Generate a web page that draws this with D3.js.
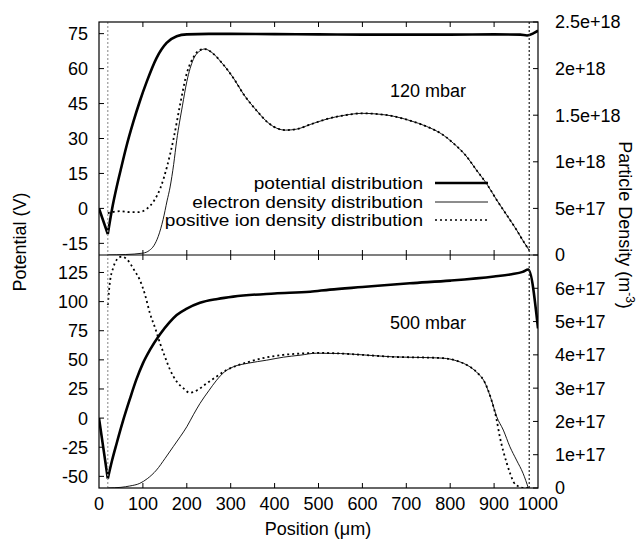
<!DOCTYPE html>
<html>
  <head>
    <meta charset="utf-8">
    <style>
    body {
      margin: 0px;
      background: white;
    }
    text {
      font-family: "Liberation Sans", Arial, sans-serif;
      font-size: 18px;
      fill: #000;
    }
    </style>
  </head>
  <body>
    <div id="chart"></div>

    <script src="https://d3js.org/d3.v7.min.js"></script>
    <script>

    'use strict';

    // x axis
    var positionTicks = [0, 100, 200, 300, 400, 500, 600, 700, 800, 900, 1000];
    var electrodeMarks = [20, 980];

    // 120 mbar panel
    var topPotTicks = [-15, 0, 15, 30, 45, 60, 75];
    var topDensTicks = [0, 5e17, 1e18, 1.5e18, 2e18, 2.5e18];
    var topDensLabels = ['0', '5e+17', '1e+18', '1.5e+18', '2e+18', '2.5e+18'];

    var topPotX = [0, 20, 30, 40, 50, 63, 78, 93, 109, 131, 154, 177, 200, 250, 300, 400, 500, 600, 700, 800, 900, 960, 975, 990, 1000];
    var topPotV = [0, -11, 0, 9, 17, 27, 37, 46, 54.5, 64.5, 71, 73.9, 74.7, 74.9, 74.9, 74.8, 74.7, 74.6, 74.6, 74.6, 74.7, 74.6, 74.2, 75.2, 76.3];

    var topIonX = [20, 30, 50, 70, 90, 110, 125, 140, 155, 170, 185, 200, 215, 230, 241, 255, 280, 306, 330, 359, 385, 405, 425, 450, 481, 520, 560, 600, 640, 670, 710, 746, 780, 807, 835, 860, 885, 906, 930, 951, 965, 980];
    var topIonN = [0.45e18, 0.46e18, 0.47e18, 0.46e18, 0.46e18, 0.5e18, 0.58e18, 0.72e18, 0.95e18, 1.25e18, 1.62e18, 1.95e18, 2.12e18, 2.2e18, 2.21e18, 2.18e18, 2.06e18, 1.9e18, 1.72e18, 1.55e18, 1.42e18, 1.36e18, 1.34e18, 1.35e18, 1.4e18, 1.46e18, 1.5e18, 1.52e18, 1.51e18, 1.49e18, 1.44e18, 1.38e18, 1.3e18, 1.2e18, 1.07e18, 0.91e18, 0.75e18, 0.59e18, 0.42e18, 0.27e18, 0.16e18, 0.05e18];

    var topEleX = [20, 60, 100, 115, 125, 135, 146, 155, 162, 170, 177, 190, 200, 215, 230, 241, 255, 280, 306, 330, 359, 385, 405, 425, 450, 481, 520, 560, 600, 640, 670, 710, 746, 780, 807, 835, 860, 885, 906, 930, 951, 965, 980];
    var topEleN = [0, 0.005e18, 0.02e18, 0.05e18, 0.1e18, 0.2e18, 0.38e18, 0.58e18, 0.73e18, 0.97e18, 1.23e18, 1.6e18, 1.86e18, 2.1e18, 2.19e18, 2.21e18, 2.18e18, 2.06e18, 1.9e18, 1.72e18, 1.55e18, 1.42e18, 1.36e18, 1.34e18, 1.35e18, 1.4e18, 1.46e18, 1.5e18, 1.52e18, 1.51e18, 1.49e18, 1.44e18, 1.38e18, 1.3e18, 1.2e18, 1.07e18, 0.91e18, 0.75e18, 0.59e18, 0.42e18, 0.27e18, 0.16e18, 0.05e18];

    // 500 mbar panel
    var botPotTicks = [-50, -25, 0, 25, 50, 75, 100, 125];
    var botDensTicks = [0, 1e17, 2e17, 3e17, 4e17, 5e17, 6e17];
    var botDensLabels = ['0', '1e+17', '2e+17', '3e+17', '4e+17', '5e+17', '6e+17'];

    var botPotX = [0, 20, 30, 40, 55, 70, 85, 100, 116, 139, 160, 177, 200, 230, 270, 306, 400, 481, 526, 600, 708, 800, 900, 940, 965, 978, 1000];
    var botPotV = [0, -52, -36, -22, -2, 16, 33, 47, 58.5, 72, 82, 88.5, 94, 99, 102.3, 104.3, 107, 108.5, 110.3, 112.5, 115.7, 118, 121.5, 123.5, 125.5, 127.5, 77];

    var botIonX = [20, 25, 32, 40, 52, 65, 80, 93, 105, 116, 128, 139, 150, 162, 177, 192, 207, 225, 245, 268, 291, 315, 344, 380, 420, 460, 496, 550, 600, 670, 740, 784, 815, 845, 865, 876, 894, 905, 913, 921, 929, 937, 944, 955, 970, 980];
    var botIonN = [5.5e17, 6.2e17, 6.6e17, 6.85e17, 6.95e17, 6.85e17, 6.55e17, 6.25e17, 5.8e17, 5.25e17, 4.8e17, 4.35e17, 3.95e17, 3.55e17, 3.2e17, 3.0e17, 2.86e17, 2.95e17, 3.14e17, 3.35e17, 3.55e17, 3.68e17, 3.8e17, 3.92e17, 4.0e17, 4.04e17, 4.06e17, 4.04e17, 4.0e17, 3.94e17, 3.92e17, 3.9e17, 3.82e17, 3.64e17, 3.42e17, 3.24e17, 2.64e17, 2.1e17, 1.54e17, 1.1e17, 0.74e17, 0.42e17, 0.19e17, 0.05e17, 0, 0];

    var botEleX = [20, 50, 70, 93, 110, 131, 150, 169, 185, 200, 215, 230, 250, 268, 285, 306, 340, 382, 420, 458, 496, 550, 600, 670, 740, 784, 815, 845, 865, 876, 894, 906, 921, 936, 951, 966, 978];
    var botEleN = [0, 0.02e17, 0.06e17, 0.14e17, 0.28e17, 0.54e17, 0.88e17, 1.24e17, 1.54e17, 1.84e17, 2.2e17, 2.54e17, 2.92e17, 3.24e17, 3.48e17, 3.64e17, 3.75e17, 3.84e17, 3.93e17, 3.99e17, 4.05e17, 4.04e17, 4.0e17, 3.94e17, 3.92e17, 3.9e17, 3.82e17, 3.64e17, 3.42e17, 3.24e17, 2.64e17, 2.14e17, 1.74e17, 1.24e17, 0.84e17, 0.44e17, 0];

    var legendNames = ['potential distribution', 'electron density distribution', 'positive ion density distribution'];

    var W = 643, H = 544;
    var left = 99, right = 538;
    var panelTop = 22, panelMid = 255, panelBot = 488;

    var svg = d3.select('#chart').append('svg')
        .attr('width', W).attr('height', H);

    var x = d3.scaleLinear().domain([0, 1000]).range([left, right]);

    var panels = [
      { y0: panelTop, y1: panelMid, pot: [-20, 80], dens: [0, 2.5e18],
        potTicks: topPotTicks, densTicks: topDensTicks, densLabels: topDensLabels,
        potX: topPotX, potV: topPotV, ionX: topIonX, ionN: topIonN, eleX: topEleX, eleN: topEleN,
        label: '120 mbar', labelY: 97 },
      { y0: panelMid, y1: panelBot, pot: [-60, 140], dens: [0, 7e17],
        potTicks: botPotTicks, densTicks: botDensTicks, densLabels: botDensLabels,
        potX: botPotX, potV: botPotV, ionX: botIonX, ionN: botIonN, eleX: botEleX, eleN: botEleN,
        label: '500 mbar', labelY: 329 }
    ];

    var tickLen = 5;

    panels.forEach(function(p, i) {
      var yL = d3.scaleLinear().domain(p.pot).range([p.y1, p.y0]);
      var yR = d3.scaleLinear().domain(p.dens).range([p.y1, p.y0]);

      var clipId = 'clip' + i;
      svg.append('clipPath').attr('id', clipId)
        .append('rect').attr('x', left).attr('y', p.y0)
        .attr('width', right - left).attr('height', p.y1 - p.y0);

      var g = svg.append('g');

      // inner ticks on all four sides
      var tk = g.append('g').attr('stroke', '#000').attr('stroke-width', 1);
      positionTicks.slice(1, -1).forEach(function(t) {
        tk.append('line').attr('x1', x(t)).attr('x2', x(t))
          .attr('y1', p.y0).attr('y2', p.y0 + tickLen);
        tk.append('line').attr('x1', x(t)).attr('x2', x(t))
          .attr('y1', p.y1).attr('y2', p.y1 - tickLen);
      });
      p.potTicks.forEach(function(t) {
        tk.append('line').attr('x1', left).attr('x2', left + tickLen)
          .attr('y1', yL(t)).attr('y2', yL(t));
      });
      p.densTicks.forEach(function(t) {
        tk.append('line').attr('x1', right).attr('x2', right - tickLen)
          .attr('y1', yR(t)).attr('y2', yR(t));
      });

      // tick labels
      g.selectAll('.lt' + i).data(p.potTicks).enter().append('text')
        .attr('x', left - 11).attr('y', function(d) { return yL(d); })
        .attr('dy', '0.36em').attr('text-anchor', 'end')
        .text(function(d) { return d; });
      g.selectAll('.rt' + i).data(p.densTicks).enter().append('text')
        .attr('x', right + 17).attr('y', function(d) { return yR(d); })
        .attr('dy', '0.36em').attr('text-anchor', 'start')
        .text(function(d, j) { return p.densLabels[j]; });

      // curves
      var c = g.append('g').attr('clip-path', 'url(#' + clipId + ')').attr('fill', 'none');

      var lineL = d3.line().curve(d3.curveMonotoneX)
        .x(function(d) { return x(d[0]); }).y(function(d) { return yL(d[1]); });
      var lineR = d3.line().curve(d3.curveMonotoneX)
        .x(function(d) { return x(d[0]); }).y(function(d) { return yR(d[1]); });

      c.append('path').datum(d3.zip(p.eleX, p.eleN))
        .attr('d', lineR).attr('stroke', '#000').attr('stroke-width', 0.9);
      c.append('path').datum(d3.zip(p.ionX, p.ionN))
        .attr('d', lineR).attr('stroke', '#000').attr('stroke-width', 1.8)
        .attr('stroke-dasharray', '2,3');

      // potential: straight drop to the sheath minimum, then smooth
      var pts = d3.zip(p.potX, p.potV);
      var start = 'M' + x(pts[0][0]) + ',' + yL(pts[0][1]) + 'L';
      c.append('path')
        .attr('d', start + lineL(pts.slice(1)).slice(1))
        .attr('stroke', '#000').attr('stroke-width', 2.6).attr('stroke-linejoin', 'miter');

      g.append('text').attr('x', 428).attr('y', p.labelY)
        .attr('text-anchor', 'middle').text(p.label);
    });

    // electrode marks
    svg.selectAll('.emark').data(electrodeMarks).enter().append('line')
      .attr('x1', function(d) { return x(d); }).attr('x2', function(d) { return x(d); })
      .attr('y1', panelTop).attr('y2', panelBot)
      .attr('stroke', function(d, i) { return i === 0 ? '#999' : '#222'; })
      .attr('stroke-width', 1.2).attr('stroke-dasharray', '2,2');

    // frames
    svg.append('rect').attr('x', left).attr('y', panelTop)
      .attr('width', right - left).attr('height', panelBot - panelTop)
      .attr('fill', 'none').attr('stroke', '#000').attr('stroke-width', 1.2);
    svg.append('line').attr('x1', left).attr('x2', right)
      .attr('y1', panelMid).attr('y2', panelMid)
      .attr('stroke', '#000').attr('stroke-width', 1.2);

    // x tick labels
    svg.selectAll('.xt').data(positionTicks).enter().append('text')
      .attr('x', function(d) { return x(d); }).attr('y', 510)
      .attr('text-anchor', 'middle').text(function(d) { return d; });

    // axis titles
    svg.append('text').attr('x', 318).attr('y', 535)
      .attr('text-anchor', 'middle').text('Position (\u03bcm)');
    svg.append('text').attr('transform', 'translate(26,242) rotate(-90)')
      .attr('text-anchor', 'middle').text('Potential (V)');
    var rt = svg.append('text').attr('transform', 'translate(619,225) rotate(90)')
      .attr('text-anchor', 'middle');
    rt.append('tspan').text('Particle Density (m');
    rt.append('tspan').attr('font-size', '12px').attr('dy', '-7').text('-3');
    rt.append('tspan').attr('dy', '7').text(')');

    // legend (text is set a little wide, like the source figure)
    var legY = [183, 202, 220];
    var legStyle = [
      { w: 2.6, dash: null },
      { w: 0.9, dash: null },
      { w: 1.6, dash: '2,3' }
    ];
    legendNames.forEach(function(name, i) {
      svg.append('text')
        .attr('transform', 'translate(423,' + legY[i] + ') scale(1.19,1)')
        .attr('dy', '0.36em').attr('text-anchor', 'end')
        .style('font-size', '16px').text(name);
      svg.append('line').attr('x1', 435).attr('x2', 488)
        .attr('y1', legY[i]).attr('y2', legY[i])
        .attr('stroke', '#000').attr('stroke-width', legStyle[i].w)
        .attr('stroke-dasharray', legStyle[i].dash);
    });

    </script>
  </body>
</html>
